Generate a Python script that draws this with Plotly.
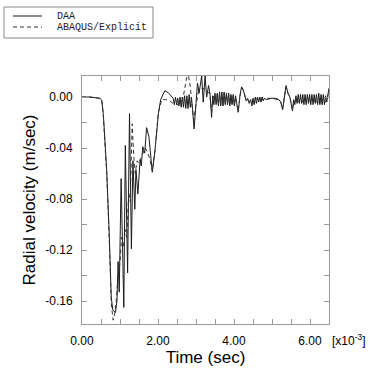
import plotly.graph_objects as go

# ---- data (time in 1e-3 s, radial velocity in m/sec) ----
t_daa = [0.00, 0.21, 0.47, 0.52, 0.56, 0.65, 0.72, 0.77, 0.81, 0.85, 0.88, 0.92, 0.95, 0.98,
         1.03, 1.10, 1.14, 1.20, 1.25, 1.30, 1.34, 1.39, 1.42, 1.47, 1.53, 1.56, 1.60, 1.65,
         1.70, 1.76, 1.85, 1.92, 2.01, 2.07, 2.18, 2.27, 2.40,
         2.43, 2.46, 2.49, 2.52, 2.55, 2.58, 2.61, 2.64, 2.67, 2.70, 2.73, 2.76, 2.79, 2.82,
         2.85, 2.88, 2.91, 2.95, 3.00, 3.04, 3.08, 3.12, 3.15, 3.19, 3.24, 3.28, 3.33, 3.37,
         3.41, 3.44, 3.47, 3.50, 3.53, 3.56, 3.59, 3.62, 3.65, 3.68, 3.71, 3.74, 3.77, 3.80,
         3.83, 3.86, 3.89, 3.92, 3.95, 3.98, 4.01, 4.04, 4.07, 4.11, 4.16, 4.20, 4.24, 4.28,
         4.32, 4.36, 4.40, 4.44, 4.47, 4.50, 4.53, 4.56, 4.59, 4.62, 4.65, 4.68, 4.71, 4.74,
         4.77, 4.80, 4.85, 4.90, 5.00, 5.10, 5.18, 5.23, 5.28, 5.33, 5.37, 5.42, 5.47, 5.54,
         5.57, 5.60, 5.63, 5.66, 5.69, 5.72, 5.75, 5.78, 5.81, 5.84, 5.87, 5.90, 5.93, 5.96,
         5.99, 6.02, 6.05, 6.08, 6.11, 6.14, 6.17, 6.20, 6.23, 6.26, 6.29, 6.32, 6.35, 6.38,
         6.41, 6.44, 6.50]
v_daa = [0.000, 0.000, -0.001, -0.0024, -0.0128, -0.057, -0.110, -0.157, -0.167, -0.168, -0.169, -0.160, -0.129, -0.153,
         -0.064, -0.165, -0.038, -0.138, -0.013, -0.119, -0.050, -0.088, -0.057, -0.076, -0.049, -0.054, -0.039, -0.044,
         -0.024, -0.031, -0.059, -0.042, -0.013, -0.002, 0.0050, 0.0034, -0.001,
         -0.006, 0.000, -0.006, -0.001, -0.007, 0.000, -0.008, 0.000, -0.008, 0.001, -0.009, 0.001, -0.009, 0.002,
         -0.008, 0.000, -0.010, -0.025, -0.005, 0.011, 0.003, 0.012, 0.0165, -0.004, 0.0165, 0.000, 0.009, 0.002,
         -0.016, 0.001, -0.006, 0.003, -0.006, 0.003, -0.007, 0.004, -0.007, 0.004, -0.007, 0.004, -0.006, 0.003,
         -0.006, 0.003, -0.007, 0.002, -0.006, 0.002, -0.007, 0.001, -0.006, -0.012, 0.002, 0.008, 0.006, 0.002,
         -0.003, -0.001, -0.005, -0.002, -0.007, -0.001, -0.006, 0.000, -0.005, 0.000, -0.004, 0.000, -0.004, 0.000,
         -0.003, -0.001, -0.002, -0.001, -0.001, -0.001, -0.002, -0.004, -0.010, 0.002, 0.009, 0.003, 0.000, -0.011,
         -0.002, -0.006, 0.001, -0.005, 0.002, -0.005, 0.002, -0.005, 0.002, -0.006, 0.002, -0.006, 0.002, -0.005,
         0.002, -0.006, 0.002, -0.006, 0.002, -0.005, 0.002, -0.006, 0.003, -0.006, 0.002, -0.006, 0.002, -0.006,
         0.001, -0.004, 0.007]

t_abq = [0.00, 0.21, 0.47, 0.52, 0.56, 0.65, 0.72, 0.77, 0.82, 0.86, 0.90, 0.95, 1.00, 1.04,
         1.09, 1.14, 1.18, 1.23, 1.27, 1.32, 1.36, 1.40, 1.45, 1.50, 1.55, 1.60, 1.66, 1.72,
         1.78, 1.85, 1.92, 2.01, 2.10, 2.20, 2.30, 2.40, 2.49, 2.58, 2.65, 2.70, 2.75, 2.80,
         2.85, 2.90, 2.94, 3.00, 3.06, 3.12, 3.18, 3.24, 3.30, 3.36, 3.41, 3.45, 3.50, 3.53,
         3.56, 3.59, 3.62, 3.65, 3.68, 3.71, 3.74, 3.77, 3.80, 3.83, 3.86, 3.89, 3.92, 3.95,
         3.98, 4.01, 4.04, 4.07, 4.11, 4.16, 4.20, 4.25, 4.30, 4.36, 4.40, 4.44, 4.47, 4.50,
         4.55, 4.60, 4.65, 4.70, 4.75, 4.85, 5.00, 5.15, 5.23, 5.28, 5.33, 5.37, 5.42, 5.47,
         5.54, 5.58, 5.62, 5.66, 5.70, 5.75, 5.80, 5.85, 5.90, 5.95, 6.00, 6.05, 6.10, 6.15,
         6.20, 6.25, 6.30, 6.35, 6.40, 6.45, 6.50]
v_abq = [0.000, 0.000, -0.001, -0.003, -0.014, -0.060, -0.115, -0.162, -0.175, -0.170, -0.160, -0.140, -0.130, -0.110,
         -0.118, -0.104, -0.110, -0.075, -0.082, -0.021, -0.045, -0.060, -0.050, -0.052, -0.048, -0.044, -0.040, -0.043,
         -0.048, -0.058, -0.042, -0.012, -0.002, -0.002, -0.003, -0.005, -0.006, -0.005, -0.002, 0.006, 0.015, 0.017,
         0.008, -0.008, -0.018, -0.006, 0.003, 0.006, 0.007, 0.006, 0.004, 0.003, -0.012, 0.000, 0.002, -0.005,
         0.002, -0.006, 0.003, -0.006, 0.003, -0.006, 0.003, -0.005, 0.002, -0.005, 0.002, -0.006, 0.001, -0.005,
         0.001, -0.006, 0.000, -0.005, -0.011, 0.001, 0.007, 0.005, 0.000, -0.002, -0.004, -0.003, -0.006, -0.002,
         -0.004, -0.001, -0.003, -0.001, -0.002, -0.002, -0.001, -0.002, -0.004, -0.009, 0.001, 0.008, 0.003, 0.000,
         -0.010, -0.003, -0.004, -0.002, -0.004, -0.001, -0.004, -0.001, -0.004, -0.001, -0.004, -0.001, -0.004, -0.001,
         -0.005, -0.001, -0.005, -0.001, -0.004, -0.002, 0.006]

series_names = ["DAA", "ABAQUS/Explicit"]
x_tick_vals = [0, 2, 4, 6]
x_tick_text = ["0.00", "2.00", "4.00", "6.00"]
y_tick_vals = [0.00, -0.04, -0.08, -0.12, -0.16]
y_tick_text = ["0.00", "-0.04", "-0.08", "-0.12", "-0.16"]

# ---- layout geometry (pixels) ----
W, H = 392, 378
L, R, T, B = 82, 329, 76, 324


def px(x):
    return (x - L) / (R - L)


def py(y):
    return (B - y) / (B - T)


fig = go.Figure()
fig.add_trace(go.Scatter(x=t_daa, y=v_daa, mode="lines", name=series_names[0],
                         line=dict(color="#1a1a1a", width=1), showlegend=False))
fig.add_trace(go.Scatter(x=t_abq, y=v_abq, mode="lines", name=series_names[1],
                         line=dict(color="#333333", width=1, dash="4px,3px"), showlegend=False))

# minor tick grid: every 0.5 on x, 0.02 on y
xt = [i * 0.5 for i in range(14)]
yt = [round(-0.18 + i * 0.02, 2) for i in range(10)]
yv_r = [round(a, 2) for a in y_tick_vals]

sans = "Liberation Sans, Arial, sans-serif"
tickfont = dict(family=sans, size=12, color="#000")
titlefont = dict(family=sans, size=17, color="#000")
fig.update_xaxes(range=[0, 6.5], showline=True, linecolor="#999", linewidth=1, mirror="ticks",
                 ticks="inside", ticklen=5, tickcolor="#999", tickvals=xt,
                 ticktext=[x_tick_text[x_tick_vals.index(v)] if v in x_tick_vals else "" for v in xt],
                 tickfont=tickfont, ticklabelstandoff=6, showgrid=False, zeroline=False,
                 title=dict(text="Time (sec)", font=titlefont, standoff=3))
fig.update_yaxes(range=[-0.178, 0.0165], showline=True, linecolor="#999", linewidth=1, mirror="ticks",
                 ticks="inside", ticklen=5, tickcolor="#999", tickvals=yt,
                 ticktext=[y_tick_text[yv_r.index(v)] if v in yv_r else "" for v in yt],
                 tickfont=tickfont, ticklabelstandoff=6, showgrid=False, zeroline=False,
                 title=dict(text="Radial velocity (m/sec)", font=titlefont, standoff=5))

shapes = [
    dict(type="rect", xref="paper", yref="paper", x0=px(4), x1=px(153), y0=py(38), y1=py(7),
         line=dict(color="#888", width=1), fillcolor="white", layer="above"),
    dict(type="line", xref="paper", yref="paper", x0=px(13), x1=px(42), y0=py(16), y1=py(16),
         line=dict(color="#1a1a1a", width=1)),
    dict(type="line", xref="paper", yref="paper", x0=px(13), x1=px(42), y0=py(27), y1=py(27),
         line=dict(color="#333", width=1, dash="4px,3px")),
]
legfont = dict(family="Liberation Mono, DejaVu Sans Mono, monospace", size=10, color="#222")
annotations = [
    dict(xref="paper", yref="paper", x=px(55), y=py(16), text=series_names[0], showarrow=False,
         xanchor="left", yanchor="middle", font=legfont),
    dict(xref="paper", yref="paper", x=px(55), y=py(27), text=series_names[1], showarrow=False,
         xanchor="left", yanchor="middle", font=legfont),
    dict(xref="paper", yref="paper", x=px(330), y=py(340), text="[x10<sup>-3</sup>]", showarrow=False,
         xanchor="left", yanchor="middle", font=dict(family=sans, size=12, color="#000")),
]

fig.update_layout(width=W, height=H, margin=dict(l=L, r=W - R, t=T, b=H - B),
                  paper_bgcolor="white", plot_bgcolor="white", shapes=shapes, annotations=annotations)

fig.write_html("out.html", config={"displayModeBar": False},
               post_script="document.body.style.margin='0';document.body.style.padding='0';")
